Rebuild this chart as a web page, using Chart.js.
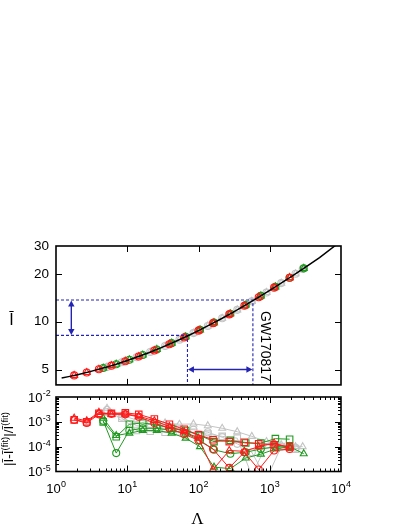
<!DOCTYPE html>
<html><head><meta charset="utf-8">
<script src="https://cdn.jsdelivr.net/npm/chart.js@4"></script>
<style>
html,body{margin:0;padding:0;background:#fff;}
#wrap{position:relative;width:409px;height:529px;overflow:hidden;background:#fff;}
canvas{position:absolute;left:0;}
#cTop{top:0;}
#cBot{top:390px;}
</style></head><body>
<div id="wrap">
<canvas id="cTop" width="409" height="400"></canvas>
<canvas id="cBot" width="409" height="139"></canvas>
</div>
<script>
// ---------- axis ranges & tick labels ----------
const lambdaMin = 1, lambdaMax = 1e4;
const ibarMin = 4, ibarMax = 30;
const resMin = 1e-5, resMax = 1e-2;
const ibarTicks = [5, 10, 20, 30];
const resTicks = [1e-5, 1e-4, 1e-3, 1e-2];
const lambdaTicks = [1, 10, 100, 1000, 10000];
const decadesX = [1, 10, 100, 1000];
const decadesRes = [1e-5, 1e-4, 1e-3];
const minorMult = [2, 3, 4, 5, 6, 7, 8, 9];

// ---------- fit curve ----------
const fitLambda = [1.2, 1.5, 2, 3, 5, 7, 10, 15, 20, 30, 50, 70, 100, 150, 200, 300, 500, 700, 1000, 1500, 2000, 3000, 5000, 8000, 10000];
const fitIbar   = [4.42, 4.51, 4.64, 4.85, 5.16, 5.40, 5.70, 6.08, 6.38, 6.87, 7.59, 8.13, 8.79, 9.65, 10.33, 11.42, 13.04, 14.27, 15.75, 17.68, 19.23, 21.69, 25.34, 29.8, 32.0];

// ---------- sample points ----------
const redLambda = [1.8, 2.7, 4.0, 6.0, 9.4, 14.5, 24, 39, 63, 100, 160, 270, 440, 700, 1150, 1900];
const redIbar   = [4.59, 4.79, 5.02, 5.29, 5.64, 6.04, 6.59, 7.22, 7.96, 8.79, 9.80, 11.12, 12.61, 14.27, 16.39, 18.94];
const redCircleRes   = [1.2e-3, 9e-4, 2.0e-3, 2.1e-3, 2.0e-3, 1.6e-3, 9e-4, 5.5e-4, 3.2e-4, 1.8e-4, 8e-5, 1.4e-5, 6e-5, 1.2e-5, 7e-5, 8e-5];
const redSquareRes   = [1.2e-3, 1.0e-3, 2.2e-3, 2.2e-3, 2.3e-3, 2.0e-3, 1.3e-3, 8e-4, 5e-4, 3e-4, 1.9e-4, 1.6e-4, 1.5e-4, 1.3e-4, 1.2e-4, 1.0e-4];
const redTriangleRes = [1.4e-3, 1.1e-3, 2.4e-3, 2.0e-3, 2.1e-3, 1.7e-3, 1.1e-3, 6.5e-4, 4e-4, 2.2e-4, 1.2e-5, 7e-5, 6.5e-5, 1.0e-4, 1.4e-4, 9e-5];

const greenLambda = [4.6, 7.0, 10.7, 16.5, 26, 42, 66, 105, 165, 280, 460, 750, 1200, 1900, 3000];
const greenIbar   = [5.11, 5.40, 5.76, 6.17, 6.69, 7.33, 8.04, 8.89, 9.87, 11.23, 12.75, 14.55, 16.59, 18.94, 21.69];
const greenCircleRes   = [1.1e-3, 5.5e-5, 4.5e-4, 5.5e-4, 5.5e-4, 4.5e-4, 3.5e-4, 1.8e-4, 7.5e-5, 5.2e-5, 6e-5, 8e-5, 1.0e-4, 9.5e-5];
const greenSquareRes   = [1.0e-3, 2.5e-4, 8e-4, 9e-4, 7.5e-4, 5.5e-4, 4.5e-4, 2.8e-4, 1.6e-4, 1.8e-4, 1.4e-4, 1.4e-4, 2.1e-4, 2.0e-4];
const greenTriangleRes = [1.4e-3, 2.8e-4, 3.5e-4, 4.5e-4, 4.5e-4, 3.5e-4, 2.2e-4, 1.0e-4, 1.5e-5, 1.3e-5, 3.5e-5, 5e-5, 8e-5, 1.0e-4, 5.2e-5];

const greyLambda = [5.2, 8.4, 13.5, 21, 34, 54, 85, 135, 215, 350, 560, 900, 1450, 2300, 2900];
const greyIbar   = [5.19, 5.55, 5.97, 6.44, 7.03, 7.71, 8.48, 9.41, 10.52, 11.88, 13.44, 15.29, 17.51, 20.04, 21.47];
const greyCircleRes   = [3.0e-3, 1.6e-3, 7e-4, 6e-4, 5.5e-4, 5e-4, 4.8e-4, 3.8e-4, 2.4e-4, 1.3e-4, 6e-5, 5e-6, 1.0e-4, 9e-5];
const greySquareRes   = [2.5e-3, 1.4e-3, 4.5e-4, 4.2e-4, 3.8e-4, 4e-4, 3.8e-4, 3.2e-4, 2.6e-4, 2.2e-4, 7e-6, 1.2e-4, 1.0e-4, 8e-5];
const greyTriangleRes = [3.5e-3, 1.8e-3, 1.2e-3, 1.0e-3, 9e-4, 8e-4, 8.2e-4, 7e-4, 5.5e-4, 4e-4, 2.6e-4, 1.6e-4, 1.2e-4, 1.0e-4, 1.0e-4];

// ---------- GW170817 annotation ----------
const gwLambda = [70, 580];
const gwIbar = [8.2, 13.7];
const arrowLambdaPos = 1.64;
const arrowIbarPos = 5.0;

// ---------- styles ----------
const RED = '#ff1a1a', GREEN = '#1f9a1f', GREY = '#c4c4c4', BLUE = '#2424b4';
const FONT = "'Liberation Sans', Arial, Helvetica, sans-serif";

function pts(xs, ys){ return ys.map((y, i) => ({x: xs[i], y})); }
function minorList(decs){ const out = []; decs.forEach(d => minorMult.forEach(m => out.push(d*m))); return out; }
function expOf(v){ return String(Math.round(Math.log10(v))); }

function frameTicks(cfg){
  return {
    id: 'frameTicks',
    afterDraw(chart){
      const {ctx, chartArea: a, scales} = chart;
      const sx = scales.x, sy = scales.y;
      ctx.save();
      ctx.strokeStyle = '#000';
      ctx.lineWidth = 1;
      ctx.beginPath();
      const vx = (v, len) => { const p = Math.round(sx.getPixelForValue(v)) + 0.5; ctx.moveTo(p, a.top); ctx.lineTo(p, a.top + len); ctx.moveTo(p, a.bottom); ctx.lineTo(p, a.bottom - len); };
      const vy = (v, len) => { const p = Math.round(sy.getPixelForValue(v)) + 0.5; ctx.moveTo(a.left, p); ctx.lineTo(a.left + len, p); ctx.moveTo(a.right, p); ctx.lineTo(a.right - len, p); };
      cfg.xMajor.forEach(v => vx(v, 6));
      cfg.xMinor.forEach(v => vx(v, 3));
      cfg.yMajor.forEach(v => vy(v, 6));
      cfg.yMinor.forEach(v => vy(v, 3));
      ctx.stroke();
      ctx.lineWidth = 1.6;
      ctx.strokeRect(a.left, a.top, a.right - a.left, a.bottom - a.top);
      ctx.restore();
    }
  };
}

function arrowHead(ctx, x, y, ang){
  const L = 6, W = 3.2;
  ctx.beginPath();
  ctx.moveTo(x, y);
  ctx.lineTo(x - L*Math.cos(ang) + W*Math.sin(ang), y - L*Math.sin(ang) - W*Math.cos(ang));
  ctx.lineTo(x - L*Math.cos(ang) - W*Math.sin(ang), y - L*Math.sin(ang) + W*Math.cos(ang));
  ctx.closePath();
  ctx.fill();
}

const topText = {
  id: 'topText',
  afterDatasetsDraw(chart){
    const {ctx, scales} = chart;
    const sx = scales.x, sy = scales.y;
    ctx.save();
    ctx.strokeStyle = BLUE; ctx.fillStyle = BLUE; ctx.lineWidth = 1.4;
    const ax = sx.getPixelForValue(arrowLambdaPos);
    const y1 = sy.getPixelForValue(gwIbar[1]), y0 = sy.getPixelForValue(gwIbar[0]);
    ctx.beginPath(); ctx.moveTo(ax, y1 + 4); ctx.lineTo(ax, y0 - 4); ctx.stroke();
    arrowHead(ctx, ax, y1 + 0.5, -Math.PI/2);
    arrowHead(ctx, ax, y0 - 0.5, Math.PI/2);
    const ay = sy.getPixelForValue(arrowIbarPos);
    const x0 = sx.getPixelForValue(gwLambda[0]), x1 = sx.getPixelForValue(gwLambda[1]);
    ctx.beginPath(); ctx.moveTo(x0 + 4, ay); ctx.lineTo(x1 - 4, ay); ctx.stroke();
    arrowHead(ctx, x0 + 0.5, ay, Math.PI);
    arrowHead(ctx, x1 - 0.5, ay, 0);
    ctx.fillStyle = '#000';
    ctx.textAlign = 'center'; ctx.textBaseline = 'middle';
    ctx.font = '16px ' + FONT;
    ctx.fillText('Ī', 11.5, 321);
    ctx.translate(265, 346.5);
    ctx.rotate(Math.PI/2);
    ctx.font = '14px ' + FONT;
    ctx.fillText('GW170817', 0, 0);
    ctx.restore();
  }
};

// power-of-ten tick labels with a raised exponent
const MAINF = '13px ' + FONT, SUPF = '9px ' + FONT;
function powLabel(ctx, x, yBase, exp, align){
  ctx.font = MAINF; const w1 = ctx.measureText('10').width;
  ctx.font = SUPF; const w2 = ctx.measureText(exp).width;
  const start = align === 'right' ? x - w1 - w2 : x - (w1 + w2)/2;
  ctx.textAlign = 'left'; ctx.textBaseline = 'alphabetic';
  ctx.font = MAINF; ctx.fillText('10', start, yBase);
  ctx.font = SUPF; ctx.fillText(exp, start + w1 + 0.3, yBase - 5.5);
}

const botText = {
  id: 'botText',
  afterDraw(chart){
    const {ctx, chartArea: a, scales} = chart;
    ctx.save();
    ctx.fillStyle = '#000';
    lambdaTicks.forEach(v => powLabel(ctx, scales.x.getPixelForValue(v), a.bottom + 21, expOf(v), 'center'));
    resTicks.forEach(v => powLabel(ctx, 50.5, scales.y.getPixelForValue(v) + 4.5, expOf(v), 'right'));
    ctx.textBaseline = 'alphabetic';
    ctx.textAlign = 'center';
    ctx.font = "17px 'Liberation Serif', 'Times New Roman', serif";
    ctx.fillText('Λ', (a.left + a.right)/2 - 1, 134);
    const parts = [['|Ī-Ī', false], ['(fit)', true], ['|/Ī', false], ['(fit)', true]];
    const fMain = '13.5px ' + FONT, fSup = '9.5px ' + FONT;
    let total = 0;
    parts.forEach(p => { ctx.font = p[1] ? fSup : fMain; total += ctx.measureText(p[0]).width; });
    ctx.translate(13, 49);
    ctx.rotate(-Math.PI/2);
    ctx.textAlign = 'left';
    let x = -total/2;
    parts.forEach(p => {
      ctx.font = p[1] ? fSup : fMain;
      ctx.fillText(p[0], x, p[1] ? -5.5 : 0);
      x += ctx.measureText(p[0]).width;
    });
    ctx.restore();
  }
};

function markerSet(color, style, xs, ys, line){
  const r = style === 'rect' ? 4.6 : (style === 'triangle' ? 4.0 : 3.5);
  return {
    data: pts(xs, ys), showLine: !!line, borderColor: color, borderWidth: 1,
    pointStyle: style, pointRadius: r, pointBorderColor: color, pointBorderWidth: 1.1,
    pointBackgroundColor: 'rgba(0,0,0,0)', fill: false, tension: 0
  };
}

// ---------- top chart ----------
new Chart(document.getElementById('cTop'), {
  type: 'scatter',
  data: { datasets: [
    { data: pts(fitLambda, fitIbar), showLine: true, borderColor: '#000', borderWidth: 1.5, pointRadius: 0, tension: 0 },
    { data: [{x: lambdaMin, y: gwIbar[1]}, {x: gwLambda[1], y: gwIbar[1]}, {x: gwLambda[1], y: ibarMin}], showLine: true, borderColor: BLUE, borderWidth: 1.1, borderDash: [3, 2], pointRadius: 0 },
    { data: [{x: lambdaMin, y: gwIbar[0]}, {x: gwLambda[0], y: gwIbar[0]}, {x: gwLambda[0], y: ibarMin}], showLine: true, borderColor: BLUE, borderWidth: 1.1, borderDash: [3, 2], pointRadius: 0 },
    markerSet(RED, 'circle', redLambda, redIbar),
    markerSet(RED, 'triangle', redLambda, redIbar),
    markerSet(GREEN, 'circle', greenLambda, greenIbar),
    markerSet(GREEN, 'triangle', greenLambda, greenIbar),
    markerSet(GREY, 'circle', greyLambda, greyIbar),
    markerSet(GREY, 'triangle', greyLambda, greyIbar)
  ]},
  options: {
    responsive: false, animation: false, devicePixelRatio: 1,
    layout: { padding: { top: 246, right: 68, bottom: 3, left: 0 } },
    plugins: { legend: { display: false }, tooltip: { enabled: false } },
    scales: {
      x: { type: 'logarithmic', min: lambdaMin, max: lambdaMax, display: false },
      y: { type: 'logarithmic', min: ibarMin, max: ibarMax,
        afterBuildTicks: s => { s.ticks = ibarTicks.map(v => ({value: v})); },
        afterFit: s => { s.width = 56; },
        grid: { display: false, drawTicks: false },
        border: { display: false },
        ticks: { callback: v => String(v), font: { family: FONT, size: 13.5 }, color: '#000', padding: 7, autoSkip: false }
      }
    }
  },
  plugins: [topText, frameTicks({ xMajor: [10, 100, 1000], xMinor: [], yMajor: [5, 10, 20], yMinor: [] })]
});

// ---------- bottom chart ----------
new Chart(document.getElementById('cBot'), {
  type: 'scatter',
  data: { datasets: [
    markerSet(RED, 'circle', redLambda, redCircleRes, true),
    markerSet(RED, 'rect', redLambda, redSquareRes, true),
    markerSet(RED, 'triangle', redLambda, redTriangleRes, true),
    markerSet(GREEN, 'circle', greenLambda, greenCircleRes, true),
    markerSet(GREEN, 'rect', greenLambda, greenSquareRes, true),
    markerSet(GREEN, 'triangle', greenLambda, greenTriangleRes, true),
    markerSet(GREY, 'circle', greyLambda, greyCircleRes, true),
    markerSet(GREY, 'rect', greyLambda, greySquareRes, true),
    markerSet(GREY, 'triangle', greyLambda, greyTriangleRes, true)
  ]},
  options: {
    responsive: false, animation: false, devicePixelRatio: 1,
    layout: { padding: { top: 7, right: 68, bottom: 0, left: 0 } },
    plugins: { legend: { display: false }, tooltip: { enabled: false } },
    scales: {
      x: { type: 'logarithmic', min: lambdaMin, max: lambdaMax,
        afterBuildTicks: s => { s.ticks = lambdaTicks.map(v => ({value: v})); },
        afterFit: s => { s.height = 57.5; },
        grid: { display: false, drawTicks: false },
        border: { display: false },
        ticks: { display: false }
      },
      y: { type: 'logarithmic', min: resMin, max: resMax,
        afterBuildTicks: s => { s.ticks = resTicks.map(v => ({value: v})); },
        afterFit: s => { s.width = 56; },
        grid: { display: false, drawTicks: false },
        border: { display: false },
        ticks: { display: false }
      }
    }
  },
  plugins: [botText, frameTicks({ xMajor: [10, 100, 1000], xMinor: minorList(decadesX), yMajor: [1e-4, 1e-3], yMinor: minorList(decadesRes) })]
});
</script>
</body></html>
